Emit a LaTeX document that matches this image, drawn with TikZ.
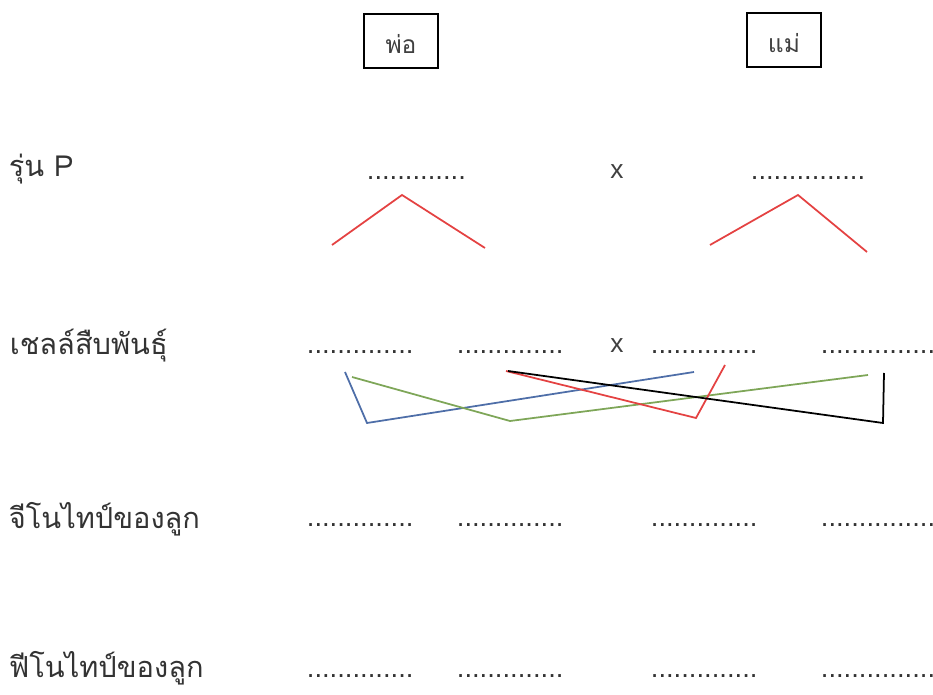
\documentclass[tikz,border=0pt]{standalone}
\usepackage{fontspec}
\setmainfont{Liberation Sans}
\newfontfamily\thaifont[Script=Thai]{Loma}
\usetikzlibrary{positioning}
\definecolor{crossred}{RGB}{228,66,66}
\definecolor{crossblue}{RGB}{78,110,168}
\definecolor{crossgreen}{RGB}{126,166,88}

\begin{document}
\begin{tikzpicture}[x=0.02cm,y=-0.02cm,line width=1pt,
  parent/.style={draw,line width=1.2pt,inner sep=0pt,minimum width=1.48cm,text height=0.8cm,text depth=0.28cm,font=\thaifont\fontsize{14}{16}\selectfont,text=black!75},
  rowlabel/.style={anchor=west,inner sep=0pt,font=\thaifont\fontsize{16.5}{20}\selectfont,text=black!80},
  blank/.style={anchor=base west,inner sep=0pt,font=\fontsize{15.6}{18}\selectfont,text=black!80},
  cross/.style={inner sep=0pt,font=\fontsize{15}{18}\selectfont,text=black!75}]
  \path[use as bounding box,clip] (0,0) rectangle (933,695);
  % parents
  \node[parent] (dad) at (401,41) {พ่อ};
  \node[parent] (mom) at (784,40) {แม่};
  % row labels
  \node[rowlabel] (rowP) at (8,169) {รุ่น P};
  \node[rowlabel] (rowGam) at (9,346) {เชลล์สืบพันธุ์};
  \node[rowlabel] (rowGeno) at (8,519) {จีโนไทป์ของลูก};
  \node[rowlabel] (rowPheno) at (8,668) {ฟีโนไทป์ของลูก};
  % blanks, P
  \node[blank] (pDad) at (366,180) {.............};
  \node[cross] (pX) at (617,172) {x};
  \node[blank] (pMom) at (750,180) {...............};
  % blanks, gametes
  \node[blank] (gam1) at (306,354) {..............};
  \node[blank] (gam2) at (456,354) {..............};
  \node[cross] (gamX) at (617,346) {x};
  \node[blank] (gam3) at (650,354) {..............};
  \node[blank] (gam4) at (820,354) {...............};
  % blanks, genotype
  \node[blank] (geno1) at (306,526) {..............};
  \node[blank] (geno2) at (456,526) {..............};
  \node[blank] (geno3) at (650,526) {..............};
  \node[blank] (geno4) at (820,526) {...............};
  % blanks, phenotype
  \node[blank] (pheno1) at (306,677) {..............};
  \node[blank] (pheno2) at (456,677) {..............};
  \node[blank] (pheno3) at (650,677) {..............};
  \node[blank] (pheno4) at (820,677) {...............};
  % split lines under parents
  \coordinate (dadL) at (332,245);
  \coordinate (dadT) at (402,195);
  \coordinate (dadR) at (485,248);
  \coordinate (momL) at (710,245);
  \coordinate (momT) at (798,195);
  \coordinate (momR) at (867,252);
  \draw[crossred] (dadL) -- (dadT) -- (dadR);
  \draw[crossred] (momL) -- (momT) -- (momR);
  % pairing lines under gametes
  \coordinate (b1) at (345,372);
  \coordinate (b2) at (367,423);
  \coordinate (b3) at (694,372);
  \coordinate (e1) at (352,377);
  \coordinate (e2) at (510,421);
  \coordinate (e3) at (868,375);
  \coordinate (r1) at (506,371);
  \coordinate (r2) at (696,418);
  \coordinate (r3) at (725,365);
  \coordinate (k1) at (508,371);
  \coordinate (k2) at (883,423);
  \coordinate (k3) at (884,373);
  \draw[crossblue] (b1) -- (b2) -- (b3);
  \draw[crossgreen] (e1) -- (e2) -- (e3);
  \draw[crossred] (r1) -- (r2) -- (r3);
  \draw[black] (k1) -- (k2) -- (k3);
\end{tikzpicture}
\end{document}
